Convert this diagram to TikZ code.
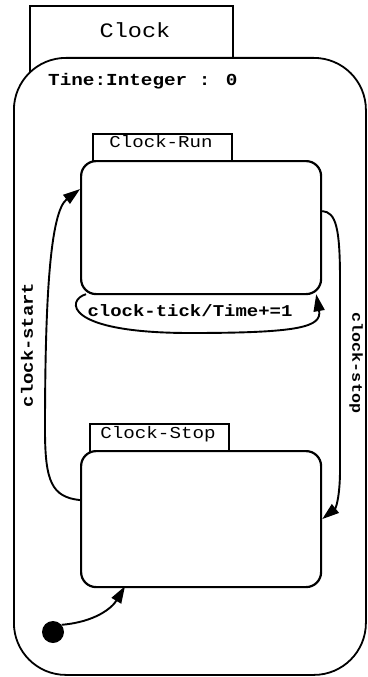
\documentclass[tikz,border=0pt]{standalone}
\usepackage{fontspec}
\newfontfamily\cour[FakeStretch=1.15]{Liberation Mono}
\usetikzlibrary{arrows.meta}
\newcommand{\fsz}[1]{\fontsize{#1bp}{#1bp}\selectfont}
\tikzset{
  tabbox/.style={draw, fill=white, line width=1.8bp, inner sep=0pt, anchor=north west},
  statebox/.style={draw, fill=white, line width=2.2bp, rounded corners=15bp, inner sep=0pt, anchor=north west},
  trans/.style={line width=1.9bp, -{Triangle[length=17bp,width=11bp]}},
  lbl/.style={font=\cour, inner sep=0pt}
}
\begin{document}
\begin{tikzpicture}[x=1bp,y=-1bp]
\useasboundingbox (0,0) rectangle (367,677);
% outer superstate
\node (clocktab) [tabbox, minimum width=203bp, minimum height=75bp] at (29,5) {};
\node (clock) [draw, fill=white, line width=1.8bp, rounded corners=52bp, inner sep=0pt,
  anchor=north west, minimum width=352bp, minimum height=617bp] at (13,57) {};
\node (clockname) [lbl, anchor=base] at (135,38) {\fsz{20.5}Clock};
\node (attr) [lbl, anchor=base west] at (48,86) {\fsz{16.8}\bfseries Tine:Integer : 0};
% Clock-Run
\node (runtab) [tabbox, minimum width=139bp, minimum height=32bp] at (92,133) {};
\node (run) [statebox, minimum width=240bp, minimum height=133bp] at (80,160) {};
\node (runname) [lbl, anchor=base] at (161,147) {\fsz{16.6}Clock-Run};
% Clock-Stop
\node (stoptab) [tabbox, minimum width=139bp, minimum height=32bp] at (89,423) {};
\node (stop) [statebox, minimum width=240bp, minimum height=136bp] at (80,450) {};
\node (stopname) [lbl, anchor=base] at (158,438) {\fsz{16.7}Clock-Stop};
% initial state
\node (init) [circle, fill=black, inner sep=0pt, minimum size=22bp] at (53,632) {};
% transitions
\draw[trans] (init.40) .. controls (95,622) and (112,608) .. ([xshift=45bp,yshift=2bp]stop.south west);
\draw[trans] ([yshift=19bp]stop.west) .. controls (52,497) and (45,482) .. (45,430)
  .. controls (45,300) and (50,212) .. ([yshift=38.5bp]run.west);
\draw[trans] ([yshift=16.5bp]run.east) .. controls (336,212) and (340,228) .. (340,280)
  -- (340,470) .. controls (340,496) and (336,508) .. (stop.east);
\draw[trans] ([xshift=6bp,yshift=1bp]run.south west) .. controls (66,300) and (64,333) .. (190,333)
  .. controls (300,333) and (322,327) .. ([xshift=-6bp,yshift=1bp]run.south east);
% labels
\node (ticklbl) [lbl, anchor=base] at (190,316) {\fsz{16.5}\bfseries clock-tick/Time+=1};
\node (startlbl) [lbl, rotate=90] at (27,345) {\fsz{16.4}\bfseries clock-start};
\node (stoplbl) [lbl, rotate=-90] at (356,363) {\fsz{14.5}\bfseries clock-stop};
\end{tikzpicture}
\end{document}
